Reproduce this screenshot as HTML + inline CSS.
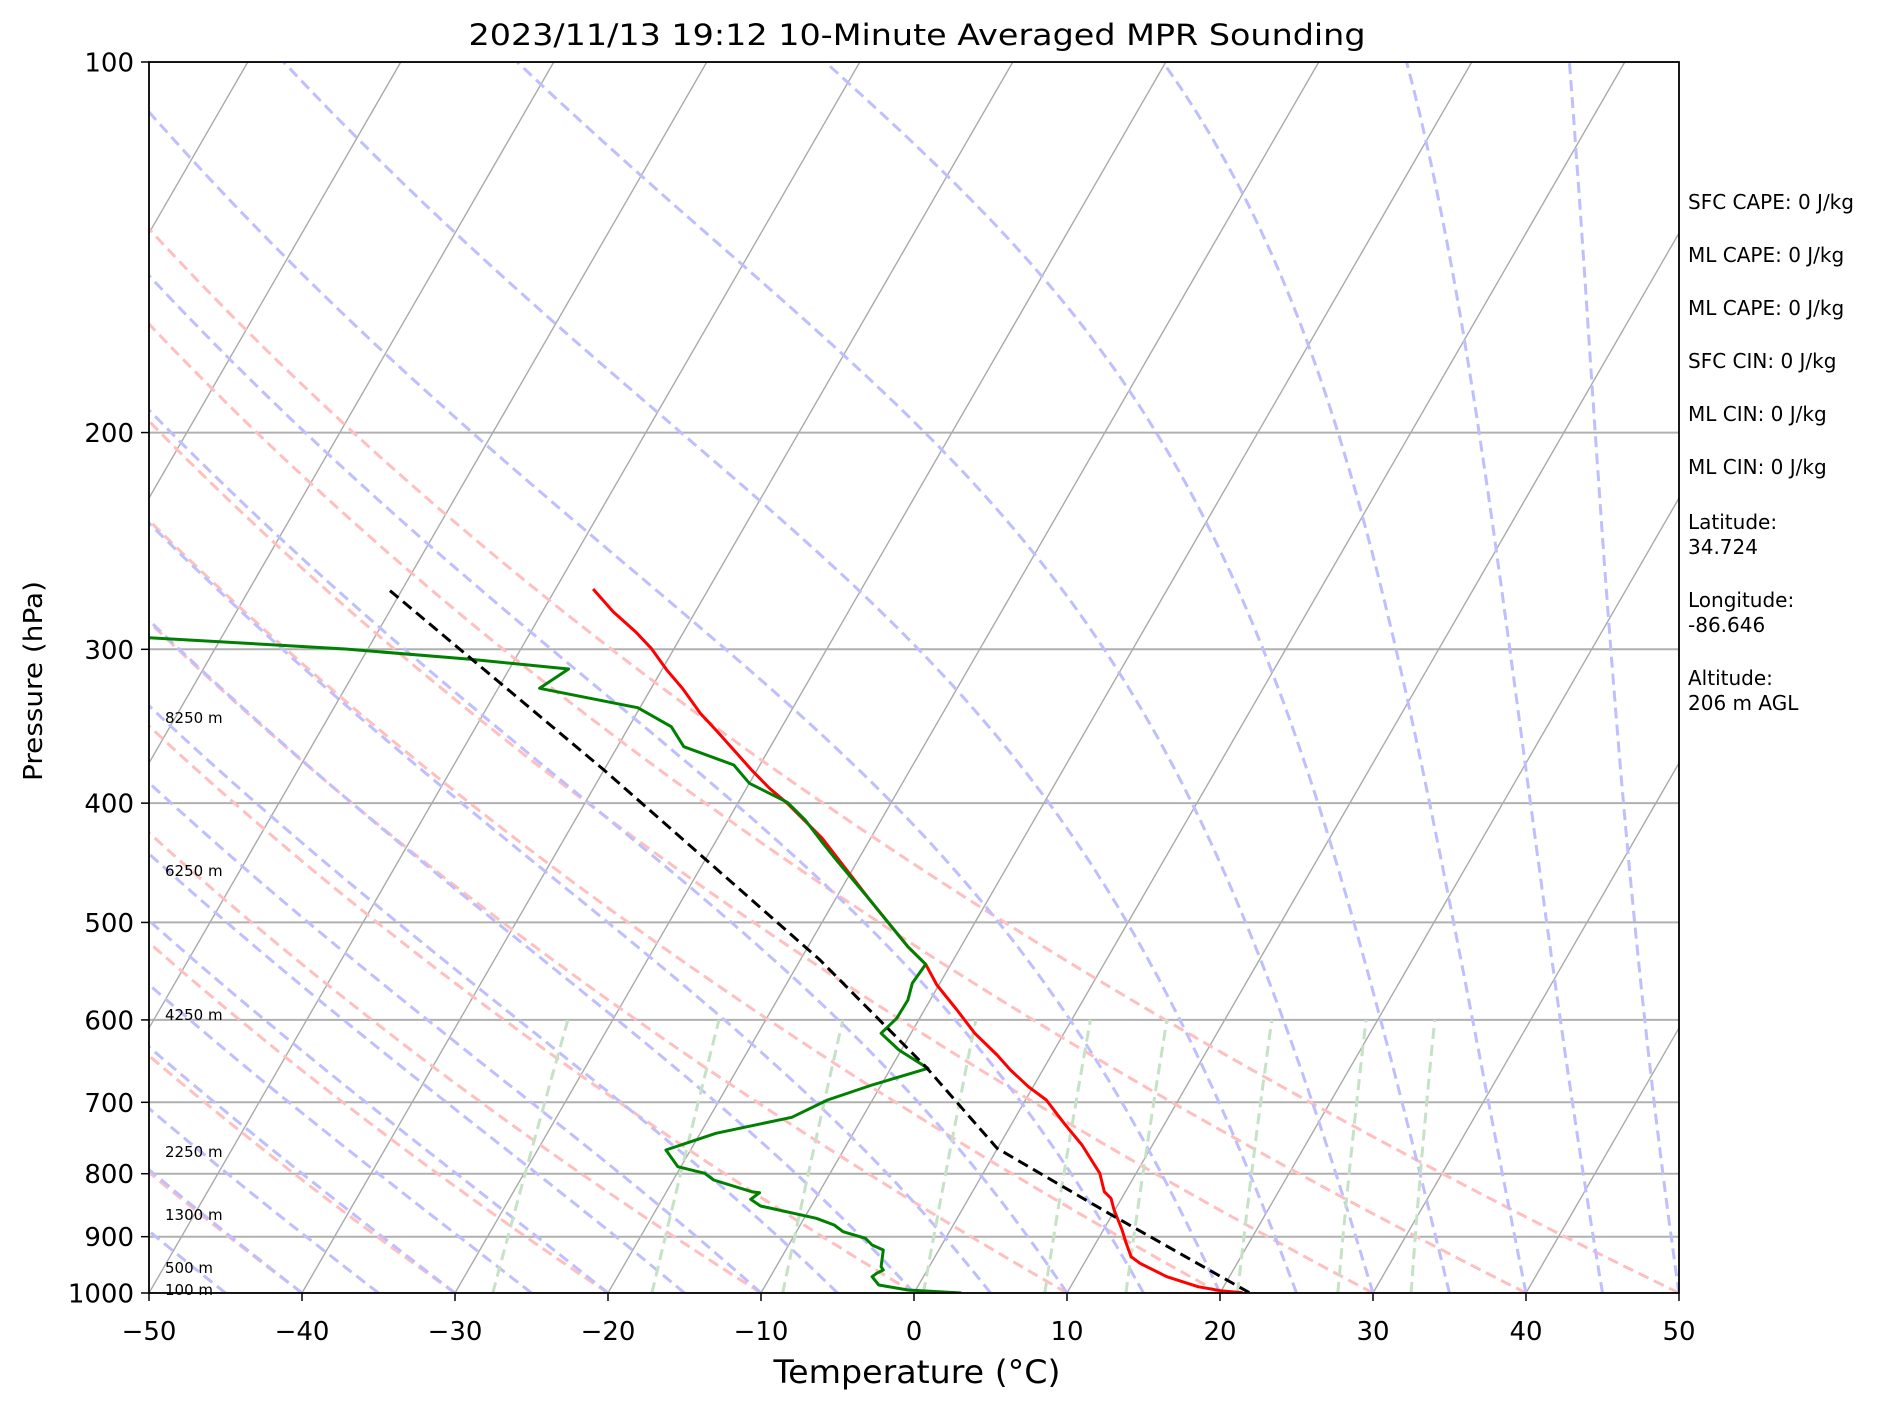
<!DOCTYPE html>
<html><head><meta charset="utf-8"><style>
html,body{margin:0;padding:0;background:#fff;}
svg{display:block;}
text{font-family:"DejaVu Sans","Liberation Sans",sans-serif;fill:#000;}
</style></head><body>
<svg id="s" width="1893" height="1406" xmlns="http://www.w3.org/2000/svg">
<defs><clipPath id="c"><rect x="149" y="62" width="1530" height="1231"/></clipPath></defs>
<rect width="1893" height="1406" fill="#fff"/>
<g id="bg" clip-path="url(#c)"></g>
<g clip-path="url(#c)" fill="none" stroke-linejoin="round" stroke-linecap="butt">
<polyline stroke="#ff0000" stroke-width="3" points="593.1,589 613.2,611.7 635.5,631.7 651.2,648.3 666.8,670 682.4,688.3 700.3,713.3 715.9,730 733.8,750 751.6,770 769.5,788.3 787.3,803.3 822,838 869.9,900 907.9,946.7 925.7,964.3 936.9,985 957,1010 974.8,1033.3 997.1,1055 1010.5,1070 1028.4,1086.7 1046.3,1100 1064.1,1123.3 1082,1145 1099.8,1173.3 1104.3,1191.7 1111,1198.3 1114.1,1210 1122.1,1230 1125.7,1241.7 1131.1,1256.7 1140,1263.3 1166.8,1276.7 1198,1286.7 1220.4,1290.7 1242.7,1292.7"/>
<polyline stroke="#008000" stroke-width="3" points="140,637.5 148.9,637.7 345.4,649 470.4,659.3 568.6,669 539.6,688.3 637.8,707.7 671.3,726.7 683.8,746.7 733.8,765 749.4,783.3 787.3,802.3 805.2,820 823,843.3 836.4,860 869.9,900 907.9,946.7 925.7,964.3 912.3,983.3 907.9,1000 896.7,1018.3 881.1,1033.3 898.9,1050 928,1068.3 872.1,1085 827.5,1100 791.8,1117.3 715.9,1133.3 665.9,1150 677.9,1166.7 704.7,1173.3 713.7,1180 751.6,1191.7 759.6,1192.7 750.7,1199.3 760.5,1206 816.3,1218.3 834.2,1225 843.1,1231.7 865.4,1238.3 872.1,1245 883.3,1250 881.1,1266.7 883.3,1270 876.6,1273.3 872.1,1276.7 878.8,1285 907.9,1290 961.4,1293"/>
<polyline stroke="#000" stroke-width="3" stroke-dasharray="11,6" points="390,590.7 604,770 820,960 925.7,1066.7 997.1,1148.3 1108.7,1213.3 1249.4,1292.7"/>
</g>
<rect x="149" y="62" width="1530" height="1231" fill="none" stroke="#000" stroke-width="1.8"/>
<g id="ticks" stroke="#000" stroke-width="1.5"></g>
<g font-size="26" text-anchor="end" id="yl"></g>
<g font-size="26" text-anchor="middle" id="xl"></g>
<text x="917" y="45" font-size="29" text-anchor="middle" textLength="897" lengthAdjust="spacingAndGlyphs">2023/11/13 19:12 10-Minute Averaged MPR Sounding</text>
<text x="917" y="1383" font-size="32" text-anchor="middle" textLength="287" lengthAdjust="spacingAndGlyphs">Temperature (°C)</text>
<text transform="translate(42,681) rotate(-90)" font-size="26" text-anchor="middle" textLength="200" lengthAdjust="spacingAndGlyphs">Pressure (hPa)</text>
<g font-size="15">
<text x="165" y="723">8250 m</text>
<text x="165" y="876">6250 m</text>
<text x="165" y="1020">4250 m</text>
<text x="165" y="1157">2250 m</text>
<text x="165" y="1220">1300 m</text>
<text x="165" y="1273">500 m</text>
<text x="165" y="1295">100 m</text>
</g>
<g font-size="20">
<text x="1688" y="209">SFC CAPE: 0 J/kg</text>
<text x="1688" y="262">ML CAPE: 0 J/kg</text>
<text x="1688" y="315">ML CAPE: 0 J/kg</text>
<text x="1688" y="368">SFC CIN: 0 J/kg</text>
<text x="1688" y="421">ML CIN: 0 J/kg</text>
<text x="1688" y="474">ML CIN: 0 J/kg</text>
<text x="1688" y="529">Latitude:</text>
<text x="1688" y="554">34.724</text>
<text x="1688" y="607">Longitude:</text>
<text x="1688" y="632">-86.646</text>
<text x="1688" y="685">Altitude:</text>
<text x="1688" y="710">206 m AGL</text>
</g>
</svg>
<script>
(function(){
var NS="http://www.w3.org/2000/svg";
function Y(p){return 62+1231*Math.log10(p/100);}
function X(T,p){return 149+(T+50)*15.3+(1293-Y(p))*0.5774;}
var bg=document.getElementById('bg');
function line(pts,stroke,w,dash){
  var e=document.createElementNS(NS,'polyline');
  e.setAttribute('points',pts.map(function(a){return a[0].toFixed(1)+','+a[1].toFixed(1);}).join(' '));
  e.setAttribute('fill','none');e.setAttribute('stroke',stroke);e.setAttribute('stroke-width',w);
  if(dash)e.setAttribute('stroke-dasharray',dash);
  bg.appendChild(e);
}
[100,200,300,400,500,600,700,800,900,1000].forEach(function(p){line([[149,Y(p)],[1679,Y(p)]],'#b0b0b0',2);});
for(var T=-160;T<=50;T+=10){line([[X(T,1000),Y(1000)],[X(T,100),Y(100)]],'#aaaaaa',1.4);}
for(var th=-50;th<=50;th+=10){var pts=[];for(var p=1000;p>=100;p-=10){var t=(th+273.15)*Math.pow(p/1000,0.2857)-273.15;pts.push([X(t,p),Y(p)]);}line(pts,'#ffbfbf',3,'11,6');}
function dTdp(T,p){var es=6.112*Math.exp(17.67*(T-273.15)/(T-29.65));var rs=0.622*es/(p-es);var Rd=287.04,Cp=1005.7,Lv=2.501e6;return (Rd*T+Lv*rs)/(Cp+Lv*Lv*rs*0.622/(Rd*T*T))/p;}
for(var t0=-50;t0<=50;t0+=5){var T=t0+273.15,pts=[[X(t0,1000),Y(1000)]];var h=-5;for(var p=1000;p>100;p+=h){var k1=dTdp(T,p);var k2=dTdp(T+h*k1/2,p+h/2);T+=h*k2;pts.push([X(T-273.15,p+h),Y(p+h)]);}line(pts,'#bfbfff',3,'11,6');}
[0.0004,0.001,0.002,0.004,0.007,0.01,0.016,0.024,0.032].forEach(function(w){var pts=[];for(var p=1000;p>=600;p-=20){var e=p*w/(0.622+w);var l=Math.log(e/6.112);var td=243.5*l/(17.67-l);pts.push([X(td,p),Y(p)]);}line(pts,'#c6e2c6',3,'11,6');});
var tk=document.getElementById('ticks'),yl=document.getElementById('yl'),xl=document.getElementById('xl');
function tick(x1,y1,x2,y2){var e=document.createElementNS(NS,'line');e.setAttribute('x1',x1);e.setAttribute('y1',y1);e.setAttribute('x2',x2);e.setAttribute('y2',y2);tk.appendChild(e);}
function txt(g,x,y,s){var e=document.createElementNS(NS,'text');e.setAttribute('x',x);e.setAttribute('y',y);e.textContent=s;g.appendChild(e);}
[100,200,300,400,500,600,700,800,900,1000].forEach(function(p){var y=Y(p);tick(141,y,149,y);txt(yl,134,y+9.5,String(p));});
for(var t=-50;t<=50;t+=10){var x=149+(t+50)*15.3;tick(x,1293,x,1301);txt(xl,x,1340,(t<0?'\u2212'+(-t):String(t)));}
})();
</script>
</body></html>
